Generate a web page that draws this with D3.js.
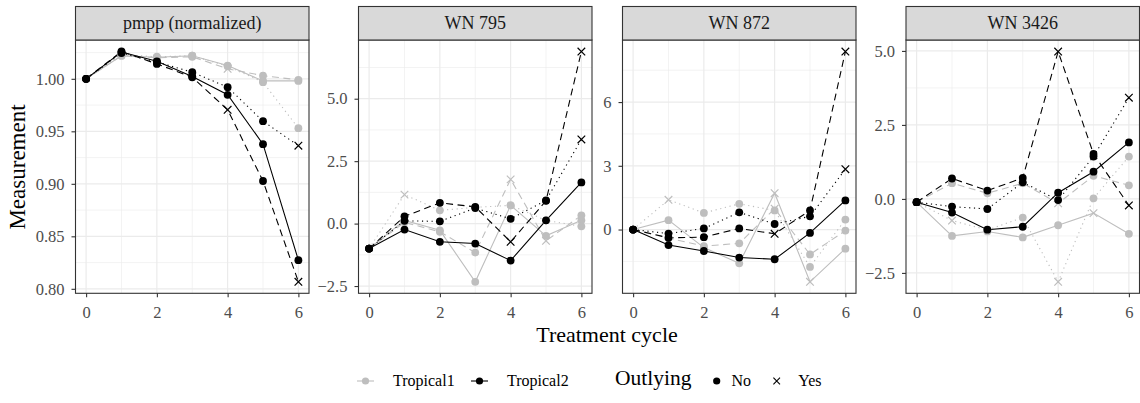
<!DOCTYPE html>
<html>
<head>
<meta charset="utf-8">
<script src="https://cdn.jsdelivr.net/npm/d3@7"></script>
<style>
  body { margin: 0; background: #fff; }
  svg text { font-family: "Liberation Serif", "Times New Roman", serif; }
</style>
</head>
<body>
<div id="chart"></div>
<script>
// Treatment cycles (x values)
const cycles = [0, 1, 2, 3, 4, 5, 6];
const panelNames = ["pmpp (normalized)", "WN 795", "WN 872", "WN 3426"];
const groups = ["Tropical1", "Tropical2"];
// each group has three replicate lines: solid, dashed, dotted
const replicateTypes = ["solid", "dashed", "dotted"];

// rows: Tropical1 solid/dashed/dotted, then Tropical2 solid/dashed/dotted
const pmppValues = [
  [1.000, 1.022, 1.0205, 1.022, 1.0126, 0.998, 0.998],
  [1.000, 1.022, 1.020, 1.021, 1.0095, 1.003, 0.999],
  [1.000, 1.023, 1.021, 1.022, 1.012, 0.9968, 0.953],
  [1.000, 1.0255, 1.0167, 1.0022, 0.9848, 0.9378, 0.8273],
  [1.000, 1.026, 1.0142, 1.0015, 0.9705, 0.9027, 0.8067],
  [1.000, 1.0245, 1.016, 1.0063, 0.992, 0.9597, 0.9363]
];
const pmppOutlying = ["NNNNNNN", "NNNNYNN", "NNNNNNN", "NNNNNNN", "NNNNYNY", "NNNNNNY"];

const wn795Values = [
  [-1.0, 0.13, -0.27, -2.33, 0.73, -0.49, 0.13],
  [-1.0, 0.05, -0.33, -1.16, 1.77, -0.69, 0.33],
  [-1.0, 1.16, 0.53, 0.65, 0.73, 0.13, -0.11],
  [-1.0, -0.24, -0.73, -0.80, -1.48, 0.13, 1.65],
  [-1.0, 0.29, 0.83, 0.67, -0.73, 0.91, 6.89],
  [-1.0, 0.11, 0.09, 0.62, 0.19, 0.93, 3.37]
];
const wn795Outlying = ["NNNNNNN", "NNNNYYN", "NYNNNNN", "NNNNNNN", "NNNNYNY", "NNNNNNY"];

const wn872Values = [
  [0.0, 0.44, -0.85, -1.59, 1.71, -2.46, -0.90],
  [0.0, -0.40, -0.78, -0.65, 0.98, -1.17, -0.05],
  [0.0, 1.40, 0.78, 1.21, 0.90, -1.76, 0.47],
  [0.0, -0.73, -1.01, -1.32, -1.40, -0.16, 1.37],
  [0.0, -0.39, -0.36, 0.05, -0.20, 0.90, 8.38],
  [0.0, -0.19, 0.05, 0.81, 0.26, 0.62, 2.84]
];
const wn872Outlying = ["NNNNYYN", "NNNNYNN", "NYNNNNN", "NNNNNNN", "NNNNYNY", "NNNNNNY"];

const wn3426Values = [
  [-0.11, -1.25, -1.10, -1.30, -0.89, -0.48, -1.18],
  [-0.11, 0.53, 0.19, 0.53, -0.15, 0.78, 0.46],
  [-0.11, -0.73, -1.05, -0.63, -2.80, 0.02, 1.43],
  [-0.11, -0.46, -1.04, -0.94, 0.21, 0.92, 1.91],
  [-0.11, 0.69, 0.28, 0.71, 4.98, 1.52, -0.22],
  [-0.11, -0.26, -0.34, 0.56, -0.04, 1.43, 3.42]
];
const wn3426Outlying = ["NNNNNYN", "NNNNYNN", "NYNNYNN", "NNNNNNN", "NNNNYNY", "NNNNNNY"];

// y tick labels per panel
const pmppTicks = [0.80, 0.85, 0.90, 0.95, 1.00];
const wn795Ticks = [-2.5, 0, 2.5, 5.0];
const wn872Ticks = [0, 3, 6];
const wn3426Ticks = [-2.5, 0, 2.5, 5.0];
const xTicks = [0, 2, 4, 6];

const panels = [
  {name: panelNames[0], values: pmppValues, out: pmppOutlying, ticks: pmppTicks, fmt: d3.format(".2f")},
  {name: panelNames[1], values: wn795Values, out: wn795Outlying, ticks: wn795Ticks, fmt: d3.format(".1f")},
  {name: panelNames[2], values: wn872Values, out: wn872Outlying, ticks: wn872Ticks, fmt: d3.format("d")},
  {name: panelNames[3], values: wn3426Values, out: wn3426Outlying, ticks: wn3426Ticks, fmt: d3.format(".1f")}
];

const W = 1140, H = 403;
const serif = '"Liberation Serif", "Times New Roman", serif';
const panelLeft = [75.5, 358.5, 622.5, 906];
const panelW = 233.5;
const stripTop = 6.5, stripH = 33.5;
const plotTop = 40, plotBottom = 293.3;

const groupColor = {Tropical1: "#BEBEBE", Tropical2: "#000000"};
const dashes = {solid: null, dashed: "7,4.5", dotted: "1.2,3.6"};
const cross = "M-3.8,-3.8L3.8,3.8M-3.8,3.8L3.8,-3.8";

const svg = d3.select("#chart").append("svg")
  .attr("width", W).attr("height", H);

panels.forEach((p, i) => {
  const left = panelLeft[i], right = left + panelW;

  // ggplot style 5% expansion
  const all = p.values.flat();
  const lo = d3.min(all), hi = d3.max(all), pad = (hi - lo) * 0.05;
  const x = d3.scaleLinear().domain([-0.3, 6.3]).range([left, right]);
  const y = d3.scaleLinear().domain([lo - pad, hi + pad]).range([plotBottom, plotTop]);

  const g = svg.append("g");
  const clipId = "clip" + i;
  g.append("clipPath").attr("id", clipId).append("rect")
    .attr("x", left).attr("y", plotTop).attr("width", panelW).attr("height", plotBottom - plotTop);

  // minor grid
  const step = p.ticks[1] - p.ticks[0];
  const yMinor = d3.range(p.ticks[0] - step / 2, y.domain()[1], step).filter(v => v > y.domain()[0]);
  g.selectAll(".ymin").data(yMinor).join("line")
    .attr("x1", left).attr("x2", right).attr("y1", d => y(d)).attr("y2", d => y(d))
    .attr("stroke", "#EBEBEB").attr("stroke-width", 0.6);
  g.selectAll(".xmin").data([1, 3, 5]).join("line")
    .attr("x1", d => x(d)).attr("x2", d => x(d)).attr("y1", plotTop).attr("y2", plotBottom)
    .attr("stroke", "#EBEBEB").attr("stroke-width", 0.6);
  // major grid
  g.selectAll(".ymaj").data(p.ticks).join("line")
    .attr("x1", left).attr("x2", right).attr("y1", d => y(d)).attr("y2", d => y(d))
    .attr("stroke", "#EBEBEB").attr("stroke-width", 1.2);
  g.selectAll(".xmaj").data(xTicks).join("line")
    .attr("x1", d => x(d)).attr("x2", d => x(d)).attr("y1", plotTop).attr("y2", plotBottom)
    .attr("stroke", "#EBEBEB").attr("stroke-width", 1.2);

  // series
  const series = p.values.map((vals, k) => ({
    group: groups[Math.floor(k / 3)],
    type: replicateTypes[k % 3],
    pts: vals.map((v, j) => ({c: cycles[j], v: v, out: p.out[k][j] === "Y"}))
  }));

  const line = d3.line().x(d => x(d.c)).y(d => y(d.v));
  const marks = g.append("g").attr("clip-path", `url(#${clipId})`);
  marks.selectAll("path.ln").data(series).join("path")
    .attr("fill", "none")
    .attr("stroke", d => groupColor[d.group])
    .attr("stroke-width", 1.1)
    .attr("stroke-dasharray", d => dashes[d.type])
    .attr("d", d => line(d.pts));

  series.forEach(s => {
    marks.selectAll(null).data(s.pts.filter(d => !d.out)).join("circle")
      .attr("cx", d => x(d.c)).attr("cy", d => y(d.v)).attr("r", 3.9)
      .attr("fill", groupColor[s.group]);
    marks.selectAll(null).data(s.pts.filter(d => d.out)).join("path")
      .attr("transform", d => `translate(${x(d.c)},${y(d.v)})`)
      .attr("d", cross).attr("fill", "none")
      .attr("stroke", groupColor[s.group]).attr("stroke-width", 1.2);
  });

  // panel border
  g.append("rect")
    .attr("x", left).attr("y", plotTop).attr("width", panelW).attr("height", plotBottom - plotTop)
    .attr("fill", "none").attr("stroke", "#333333").attr("stroke-width", 1.1);

  // strip
  g.append("rect")
    .attr("x", left).attr("y", stripTop).attr("width", panelW).attr("height", stripH)
    .attr("fill", "#D9D9D9").attr("stroke", "#333333").attr("stroke-width", 1.1);
  g.append("text")
    .attr("x", left + panelW / 2).attr("y", 29)
    .attr("text-anchor", "middle").attr("font-size", "18px").attr("fill", "#1A1A1A")
    .text(p.name);

  // axes
  const styleAxis = a => {
    a.select(".domain").remove();
    a.selectAll("line").attr("stroke", "#333333").attr("stroke-width", 1.1);
    a.selectAll("text").attr("fill", "#4D4D4D")
      .style("font-family", serif).style("font-size", "16.5px");
  };
  g.append("g")
    .attr("transform", `translate(${left},0)`)
    .call(d3.axisLeft(y).tickValues(p.ticks).tickFormat(p.fmt).tickSize(4).tickPadding(7))
    .call(styleAxis);
  g.append("g")
    .attr("transform", `translate(0,${plotBottom})`)
    .call(d3.axisBottom(x).tickValues(xTicks).tickFormat(d3.format("d")).tickSize(4).tickPadding(8.5))
    .call(styleAxis);
});

// axis titles
svg.append("text")
  .attr("transform", "translate(24.5,167) rotate(-90)")
  .attr("text-anchor", "middle").attr("font-size", "23px").attr("fill", "#000")
  .text("Measurement");
svg.append("text")
  .attr("x", 607).attr("y", 342)
  .attr("text-anchor", "middle").attr("font-size", "22px").attr("fill", "#000")
  .text("Treatment cycle");

// legend
const legY = 381;
const legend = svg.append("g");
const keyX = [365.5, 479.5];
groups.forEach((gName, i) => {
  legend.append("line")
    .attr("x1", keyX[i] - 8.5).attr("x2", keyX[i] + 8.5).attr("y1", legY).attr("y2", legY)
    .attr("stroke", groupColor[gName]).attr("stroke-width", 1.1);
  legend.append("circle")
    .attr("cx", keyX[i]).attr("cy", legY).attr("r", 3.6).attr("fill", groupColor[gName]);
  legend.append("text")
    .attr("x", keyX[i] + 27.5).attr("y", legY + 4.5)
    .attr("font-size", "16px").attr("fill", "#000")
    .text(gName);
});
legend.append("text")
  .attr("x", 615).attr("y", legY + 4)
  .attr("font-size", "21.5px").attr("fill", "#000")
  .text("Outlying");
legend.append("circle")
  .attr("cx", 716.7).attr("cy", legY).attr("r", 3.6).attr("fill", "#000");
legend.append("text")
  .attr("x", 731.5).attr("y", legY + 4.5).attr("font-size", "16px").text("No");
legend.append("path")
  .attr("transform", `translate(776.7,${legY})`)
  .attr("d", "M-3.3,-3.3L3.3,3.3M-3.3,3.3L3.3,-3.3")
  .attr("stroke", "#000").attr("stroke-width", 1.1).attr("fill", "none");
legend.append("text")
  .attr("x", 798.3).attr("y", legY + 4.5).attr("font-size", "16px").text("Yes");
</script>
</body>
</html>
